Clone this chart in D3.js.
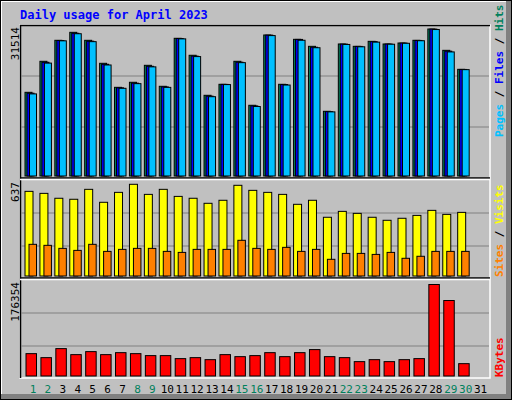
<!DOCTYPE html>
<html><head><meta charset="utf-8">
<script src="https://cdn.jsdelivr.net/npm/d3@7"></script>
<style>body{margin:0;background:#fff}text{font-family:"DejaVu Sans Mono",monospace}</style>
</head><body><div id="okvir"></div>
<script>
// podaci za travanj 2023
const dani = d3.range(1, 32);
const vikendi = [1, 2, 8, 9, 15, 16, 22, 23, 29, 30];
const hits = [17940,24590,29090,30800,29090,24160,19010,20090,23730,19230,29520,25880,17300,19660,24590,15160,30230,19660,29300,27800,13870,28300,27800,28870,28300,28510,29090,31514,26940,22870];
const files = [17750,24380,29050,30600,28900,23950,18900,19900,23520,19100,29480,25700,17120,19640,24400,15020,30200,19600,29280,27600,13800,28280,27780,28800,28290,28500,29060,31490,26760,22840];
const pages = [17600,24200,28980,30500,28800,23800,18800,19800,23400,19000,29400,25600,17000,19600,24300,14900,30100,19500,29100,27500,13750,28200,27700,28700,28250,28450,29000,31400,26600,22800];
const visits = [588,574,540,533,602,512,581,637,567,602,553,540,505,526,630,595,581,567,498,526,408,449,435,408,387,401,421,456,428,442];
const sites = [220,213,192,178,220,171,185,192,192,171,164,185,185,185,248,192,185,199,171,185,116,157,157,150,164,123,137,171,171,171];
const kbytes = [43100,35400,52800,41200,47000,41200,45000,43100,39300,39300,33500,35400,31500,41200,37300,39300,45000,37300,45000,50900,37300,35400,27700,31500,27700,31500,33500,176354,145500,23800];
const maxHits = 31514, maxVisits = 637, maxKB = 176354;

const svg = d3.select("#okvir").append("svg").attr("width", 512).attr("height", 400);

// okvir
svg.append("rect").attr("width", 512).attr("height", 400).attr("fill", "#000");
svg.append("rect").attr("x", 1).attr("y", 1).attr("width", 510).attr("height", 398).attr("fill", "#808080");
svg.append("rect").attr("x", 1).attr("y", 1).attr("width", 505).attr("height", 393).attr("fill", "#fff");
svg.append("rect").attr("x", 2).attr("y", 2).attr("width", 504).attr("height", 392).attr("fill", "#c0c0c0");

svg.append("text").attr("x", 20).attr("y", 19).attr("fill", "#0000ff")
  .attr("font-size", 12).attr("font-weight", "bold").text("Daily usage for April 2023");

// panel
svg.append("rect").attr("x", 20).attr("y", 25).attr("width", 470).attr("height", 353)
  .attr("fill", "none").attr("stroke", "#fff").attr("stroke-width", 1.5);
svg.append("path").attr("d", "M20.5,378V25.5H490").attr("stroke", "#000").attr("fill", "none").attr("stroke-width", 1.5);
[178, 278].forEach(y => {
  svg.append("line").attr("x1", 20).attr("x2", 490).attr("y1", y).attr("y2", y).attr("stroke", "#000").attr("stroke-width", 1.5);
  svg.append("line").attr("x1", 20).attr("x2", 490).attr("y1", y + 1.5).attr("y2", y + 1.5).attr("stroke", "#fff").attr("stroke-width", 1.5);
});

const x = d3.scaleBand().domain(dani).range([25, 25 + 31 * 14.92]);
const yHits = d3.scaleLinear().domain([0, maxHits]).range([176, 29]);
const yVis = d3.scaleLinear().domain([0, maxVisits]).range([276, 184.3]);
const yKB = d3.scaleLinear().domain([0, maxKB]).range([376, 284.5]);

// mreza
[76, 127, 213, 246, 313, 346].forEach(y => {
  svg.append("line").attr("x1", 21).attr("x2", 489).attr("y1", y).attr("y2", y).attr("stroke", "#808080");
});

function stupci(podatci, y, pomak, sirina, boja) {
  svg.append("g").selectAll("rect").data(podatci).join("rect")
    .attr("x", (d, i) => x(dani[i]) + pomak)
    .attr("y", d => y(d))
    .attr("width", sirina)
    .attr("height", d => y(0) - y(d))
    .attr("fill", boja).attr("stroke", "#000").attr("stroke-width", 1);
}
stupci(hits, yHits, 0, 7, "#00805c");
stupci(files, yHits, 2, 7, "#0000ff");
stupci(pages, yHits, 4.5, 7, "#00c0ff");
stupci(visits, yVis, 0, 8, "#ffff00");
stupci(sites, yVis, 4, 7.5, "#ff8000");
stupci(kbytes, yKB, 1, 10.5, "#ff0000");

// oznake dana
svg.append("g").selectAll("text").data(dani).join("text")
  .attr("x", d => x(d) + 8).attr("y", 393).attr("text-anchor", "middle")
  .attr("font-size", 11)
  .attr("fill", d => vikendi.includes(d) ? "#00805c" : "#000")
  .text(d => d);

// maksimumi lijevo
[[maxHits, 27], [maxVisits, 182], [maxKB, 282]].forEach(([v, y]) => {
  svg.append("text").attr("transform", `translate(19,${y}) rotate(-90)`)
    .attr("text-anchor", "end").attr("font-size", 11).attr("fill", "#000").text(v);
});

// legende desno
function legenda(y, dijelovi) {
  const t = svg.append("text").attr("transform", `translate(503,${y}) rotate(-90)`)
    .attr("font-size", 11).attr("font-weight", "bold");
  dijelovi.forEach(([s, c]) => t.append("tspan").attr("fill", c).text(s));
}
legenda(137, [["Pages", "#00c0ff"], [" / ", "#000"], ["Files", "#0000ff"], [" / ", "#000"], ["Hits", "#00805c"]]);
legenda(277, [["Sites", "#ff8000"], [" / ", "#000"], ["Visits", "#ffff00"]]);
legenda(377, [["KBytes", "#ff0000"]]);
</script>
</body></html>
